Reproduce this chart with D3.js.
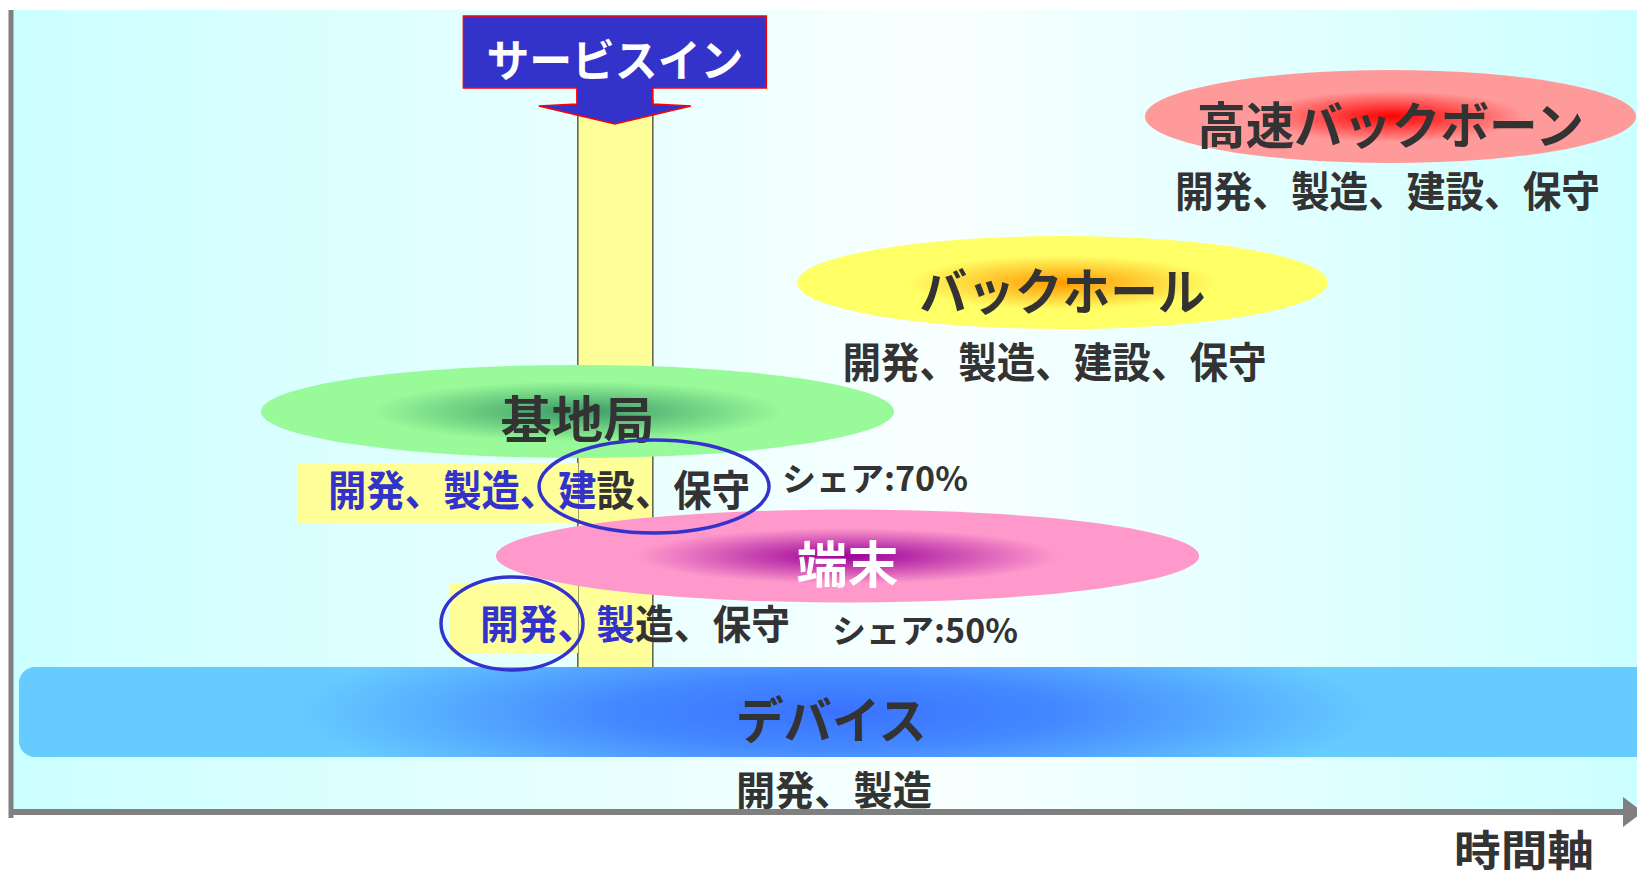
<!DOCTYPE html>
<html>
<head>
<meta charset="utf-8">
<script src="https://cdn.jsdelivr.net/npm/d3@7"></script>
<style>
  html, body { margin: 0; padding: 0; background: #fff; }
  svg { display: block; font-family: "Noto Sans CJK JP", "Noto Sans", sans-serif; }
</style>
</head>
<body>
<svg id="chart"></svg>
<script>
// layers of the network, top to bottom
const layers = ['高速バックボーン', 'バックホール', '基地局', '端末', 'デバイス']
const roles = ['開発、製造、建設、保守', '開発、製造、建設、保守', '開発、製造、建設、保守', '開発、製造、保守', '開発、製造']
// how many leading characters of the role text are marked in blue
const markedChars = [0, 0, 7, 4, 0]
const shares = ['', '', 'シェア:70%', 'シェア:50%', '']
// span on the time axis (0..100) and level on the vertical axis (0..100)
const spanStart = [69.72, 48.31, 15.32, 29.78, 0.43]
const spanEnd = [99.94, 80.98, 54.28, 73.05, 101.5]
const levels = [86.72, 66.02, 49.94, 31.92, 12.47]
// where roles text and share text start on the time axis
const roleAt = [71.57, 51.11, 19.45, 28.8, 44.55]
const shareAt = [0, 0, 47.38, 50.46, 0]
const serviceIn = 37.1
const serviceInLabel = 'サービスイン'
const axisLabel = '時間軸'
// circled parts of the roles text: [time centre, level centre]
const circled = [[39.51, 40.58], [30.77, 23.5]]

const width = 1637
const height = 875
const panelTop = 10
const axisY = 812
const axisX = 11

const colors = [
  { inner: '#ff0000', outer: '#ff9a9a', stop: '55%' },
  { inner: '#ff9900', outer: '#ffff66', stop: '58%' },
  { inner: '#3a9966', outer: '#99fa99', stop: '65%' },
  { inner: '#990099', outer: '#ff99cc', stop: '60%' },
  { inner: '#3a72ff', outer: '#66ccff', stop: '85%' },
]
const labelFill = ['#333', '#333', '#333', '#fff', '#333']
const labelLength = [387, 286, 154, 102, 191]
const roleLength = [425, 424, 422, 310, 196]
const roleSize = [42, 42, 42, 40, 40]
const subDy = [72, 76.5, 75.5, 66, 76.5]
const shareDy = [0, 0, 66, 73, 0]
const circleRx = [115, 71]
const blue = '#3333cc'

const x = d3.scaleLinear().domain([0, 100]).range([axisX + 1, width])
const y = d3.scaleLinear().domain([0, 100]).range([axisY, panelTop])

const svg = d3.select('#chart')
  .attr('width', width)
  .attr('height', height)

const defs = svg.append('defs')

const bg = defs.append('linearGradient').attr('id', 'bg')
bg.append('stop').attr('offset', '0%').attr('stop-color', '#ccffff')
bg.append('stop').attr('offset', '57%').attr('stop-color', '#f9ffff')
bg.append('stop').attr('offset', '100%').attr('stop-color', '#ccffff')

const bandCx = 835
const bandCy = y(levels[4])
colors.forEach((c, i) => {
  const g = defs.append('radialGradient').attr('id', `glow${i}`)
  if (i === 4) {
    // the device band glows wide and flat round its centre
    g.attr('gradientUnits', 'userSpaceOnUse')
      .attr('cx', bandCx).attr('cy', bandCy).attr('r', 640)
      .attr('gradientTransform', `translate(${bandCx},${bandCy}) scale(1,0.16) translate(${-bandCx},${-bandCy})`)
  }
  g.append('stop').attr('offset', '0%').attr('stop-color', c.inner)
  if (i === 4) g.append('stop').attr('offset', '35%').attr('stop-color', '#4488ff')
  g.append('stop').attr('offset', c.stop).attr('stop-color', c.outer)
  g.append('stop').attr('offset', '100%').attr('stop-color', c.outer)
})

// background panel
svg.append('rect')
  .attr('x', axisX).attr('y', panelTop)
  .attr('width', width - axisX).attr('height', axisY - panelTop)
  .attr('fill', 'url(#bg)')

// service-in column
const colLeft = x(serviceIn) - 37
svg.append('rect')
  .attr('x', colLeft).attr('y', 100)
  .attr('width', 75).attr('height', y(levels[4]) - 100)
  .attr('fill', '#ffff99')
  .attr('stroke', '#333').attr('stroke-width', 1.2)

// yellow highlight behind marked roles
const highlights = [[298, 463, 280, 60], [450, 583, 128, 70]]
highlights.forEach(([hx, hy, hw, hh]) => {
  svg.append('rect')
    .attr('x', hx).attr('y', hy).attr('width', hw).attr('height', hh)
    .attr('fill', '#ffff99')
})

// layer shapes
const shapes = svg.append('g')
layers.forEach((name, i) => {
  const x0 = x(spanStart[i])
  const x1 = x(spanEnd[i])
  const cy = y(levels[i])
  if (i === 4) {
    shapes.append('rect')
      .attr('x', x0).attr('y', cy - 45)
      .attr('width', x1 - x0).attr('height', 90)
      .attr('rx', 16)
      .attr('fill', `url(#glow${i})`)
  } else {
    shapes.append('ellipse')
      .attr('cx', (x0 + x1) / 2).attr('cy', cy)
      .attr('rx', (x1 - x0) / 2).attr('ry', 46.5)
      .attr('fill', `url(#glow${i})`)
  }
})

// layer labels
layers.forEach((name, i) => {
  const cx = (x(spanStart[i]) + x(Math.min(spanEnd[i], 100.4))) / 2
  svg.append('text')
    .attr('x', cx)
    .attr('y', y(levels[i]) + 5)
    .attr('text-anchor', 'middle')
    .attr('dominant-baseline', 'central')
    .attr('font-size', 50)
    .attr('font-weight', 'bold')
    .attr('textLength', labelLength[i])
    .attr('lengthAdjust', 'spacingAndGlyphs')
    .attr('fill', labelFill[i])
    .text(name)
})

// roles text
roles.forEach((r, i) => {
  const t = svg.append('text')
    .attr('x', x(roleAt[i]))
    .attr('y', y(levels[i]) + subDy[i])
    .attr('dominant-baseline', 'central')
    .attr('font-size', roleSize[i])
    .attr('font-weight', 'bold')
    .attr('textLength', roleLength[i])
    .attr('lengthAdjust', 'spacingAndGlyphs')
    .attr('fill', '#333')
  if (markedChars[i]) {
    t.append('tspan').attr('fill', blue).text(r.slice(0, markedChars[i]))
    t.append('tspan').text(r.slice(markedChars[i]))
  } else {
    t.text(r)
  }
  if (shares[i]) {
    svg.append('text')
      .attr('x', x(shareAt[i]))
      .attr('y', y(levels[i]) + shareDy[i])
      .attr('dominant-baseline', 'central')
      .attr('font-size', 33)
      .attr('font-weight', 'bold')
      .attr('textLength', 186)
      .attr('lengthAdjust', 'spacingAndGlyphs')
      .attr('fill', '#333')
      .text(shares[i])
  }
})

// circles drawn round the marked words
circled.forEach(([t, l], i) => {
  svg.append('ellipse')
    .attr('cx', x(t)).attr('cy', y(l))
    .attr('rx', circleRx[i]).attr('ry', 46.5)
    .attr('fill', 'none')
    .attr('stroke', blue).attr('stroke-width', 3.5)
})

// service-in arrow
const ax = x(serviceIn)
const arrow = d3.path()
arrow.moveTo(ax - 151.5, 16)
arrow.lineTo(ax + 151.5, 16)
arrow.lineTo(ax + 151.5, 88)
arrow.lineTo(ax + 38, 88)
arrow.lineTo(ax + 38, 104)
arrow.lineTo(ax + 76, 106)
arrow.lineTo(ax, 124)
arrow.lineTo(ax - 76, 106)
arrow.lineTo(ax - 38, 104)
arrow.lineTo(ax - 38, 88)
arrow.lineTo(ax - 151.5, 88)
arrow.closePath()
svg.append('path')
  .attr('d', arrow.toString())
  .attr('fill', blue)
  .attr('stroke', '#ff0000').attr('stroke-width', 1.5)
svg.append('text')
  .attr('x', ax).attr('y', 58)
  .attr('text-anchor', 'middle')
  .attr('dominant-baseline', 'central')
  .attr('font-size', 44)
  .attr('font-weight', 'bold')
  .attr('textLength', 257)
  .attr('lengthAdjust', 'spacingAndGlyphs')
  .attr('fill', '#fff')
  .text(serviceInLabel)

// axes
svg.append('line')
  .attr('x1', axisX).attr('y1', panelTop)
  .attr('x2', axisX).attr('y2', axisY + 6)
  .attr('stroke', '#808080').attr('stroke-width', 5)
svg.append('line')
  .attr('x1', axisX).attr('y1', axisY)
  .attr('x2', width - 12).attr('y2', axisY)
  .attr('stroke', '#808080').attr('stroke-width', 6)
svg.append('path')
  .attr('d', `M${width - 14},${axisY - 15}L${width + 6},${axisY}L${width - 14},${axisY + 15}Z`)
  .attr('fill', '#808080')
svg.append('text')
  .attr('x', 1524).attr('y', 847)
  .attr('text-anchor', 'middle')
  .attr('dominant-baseline', 'central')
  .attr('font-size', 42)
  .attr('font-weight', 'bold')
  .attr('textLength', 140)
  .attr('lengthAdjust', 'spacingAndGlyphs')
  .attr('fill', '#333')
  .text(axisLabel)
</script>
</body>
</html>
